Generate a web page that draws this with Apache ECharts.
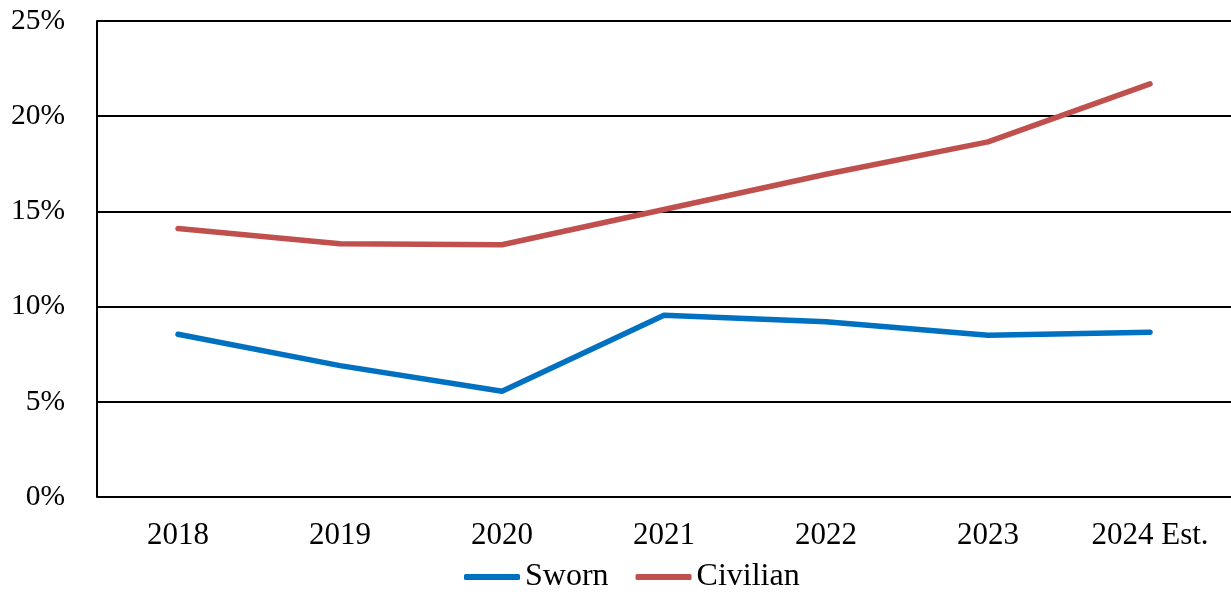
<!DOCTYPE html>
<html><head><meta charset="utf-8">
<script src="https://cdn.jsdelivr.net/npm/echarts@6/dist/echarts.min.js"></script>
<style>html,body{margin:0;padding:0;background:#fff}#c{width:1231px;height:594px}</style>
</head><body><div id="c"></div>
<script>
const categories = ['2018','2019','2020','2021','2022','2023','2024 Est.'];
const sworn = [8.55, 6.9, 5.55, 9.55, 9.2, 8.5, 8.65];
const civilian = [14.1, 13.3, 13.25, 15.1, 16.95, 18.65, 21.7];
const yTicks = [0, 5, 10, 15, 20, 25];
const font = 'Liberation Serif';
const chart = echarts.init(document.getElementById('c'), null, {renderer:'canvas'});
chart.setOption({
  animation:false,
  grid:{left:97, right:0, top:21, bottom:97, containLabel:false},
  legend:{
    top:561, left:464, padding:0, itemWidth:56, itemHeight:6, itemGap:27,
    icon:'roundRect',
    textStyle:{fontFamily:font, fontSize:32, color:'#000', padding:[0,0,0,0]},
    data:['Sworn','Civilian']
  },
  xAxis:{
    type:'category', data:categories, boundaryGap:true,
    axisLine:{show:false}, axisTick:{show:false},
    axisLabel:{fontFamily:font, fontSize:31, color:'#000', margin:23}
  },
  yAxis:{
    type:'value', min:0, max:25, interval:5,
    axisLine:{show:true, lineStyle:{color:'#000', width:2}},
    axisTick:{show:false},
    splitLine:{lineStyle:{color:'#000', width:2}},
    axisLabel:{fontFamily:font, fontSize:29.5, color:'#000', margin:32, formatter:v=>v+'%'}
  },
  series:[
    {name:'Sworn', type:'line', data:sworn, symbol:'none', color:'#0070C0',
     lineStyle:{width:5.5, color:'#0070C0', cap:'round', join:'round'}},
    {name:'Civilian', type:'line', data:civilian, symbol:'none', color:'#C0504D',
     lineStyle:{width:5.5, color:'#C0504D', cap:'round', join:'round'}}
  ]
});
</script></body></html>
